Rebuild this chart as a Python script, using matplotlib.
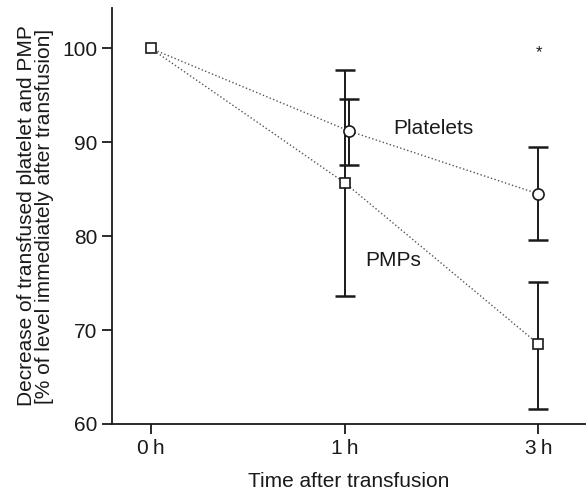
import numpy as np
import matplotlib
matplotlib.use("Agg")
import matplotlib.pyplot as plt

plt.rcParams['font.family'] = ['Liberation Sans', 'DejaVu Sans']

# data
time_labels = ["0\u2009h", "1\u2009h", "3\u2009h"]
platelets = [100.0, 91.2, 84.5]
platelets_up = [100.0, 94.6, 89.5]
platelets_lo = [100.0, 87.6, 79.6]
pmps = [100.0, 85.7, 68.5]
pmps_up = [100.0, 97.7, 75.1]
pmps_lo = [100.0, 73.6, 61.6]
y_ticks = [60, 70, 80, 90, 100]

x = np.arange(len(time_labels))
x_plt = x + np.array([0.0, 0.023, 0.0])

fig = plt.figure(figsize=(5.86, 4.9), dpi=100)
ax = fig.add_axes([0.191, 0.1347, 0.809, 0.849])

ink = "#1a1a1a"

# dotted connecting lines
ax.plot(x_plt, platelets, linestyle=":", color="#555555", lw=1.0, zorder=1)
ax.plot(x, pmps, linestyle=":", color="#555555", lw=1.0, zorder=1)

# error bars (skip 0 h, which has none)
p = np.array(platelets); m = np.array(pmps)
ax.errorbar(x_plt[1:], p[1:],
            yerr=[p[1:] - np.array(platelets_lo[1:]), np.array(platelets_up[1:]) - p[1:]],
            fmt="none", ecolor=ink, elinewidth=1.4, capsize=7, capthick=1.8, zorder=2)
ax.errorbar(x[1:], m[1:],
            yerr=[m[1:] - np.array(pmps_lo[1:]), np.array(pmps_up[1:]) - m[1:]],
            fmt="none", ecolor=ink, elinewidth=1.4, capsize=7, capthick=1.8, zorder=2)

# markers
ax.plot(x_plt[1:], platelets[1:], "o", ms=8, mfc="white", mec=ink, mew=1.2, zorder=3)
ax.plot(x, pmps, "s", ms=7, mfc="white", mec=ink, mew=1.2, zorder=3)

ax.text(1.46, 91.5, "Platelets", fontsize=15, color=ink, ha="center", va="center")
ax.text(1.25, 77.4, "PMPs", fontsize=15, color=ink, ha="center", va="center")
ax.text(2.0, 99.5, "*", fontsize=12, color=ink, ha="center", va="center")

ax.set_xlim(-0.2, 2.245)
ax.set_ylim(60, 104.3)
ax.set_xticks(x)
ax.set_xticklabels(time_labels)
ax.set_yticks(y_ticks)

for s in ["top", "right"]:
    ax.spines[s].set_visible(False)
for s in ["left", "bottom"]:
    ax.spines[s].set_linewidth(1.3)
    ax.spines[s].set_color(ink)
ax.tick_params(axis="both", length=7, width=1.3, color=ink,
               labelsize=15, labelcolor=ink, direction="out")
ax.tick_params(axis="x", pad=4)

ax.set_xlabel("Time after transfusion", fontsize=15, color=ink, labelpad=10)
ax.set_ylabel("Decrease of transfused platelet and PMP\n[% of level immediately after transfusion]",
              fontsize=15, color=ink, labelpad=6, linespacing=0.95)

fig.savefig("out.png", dpi=100)
